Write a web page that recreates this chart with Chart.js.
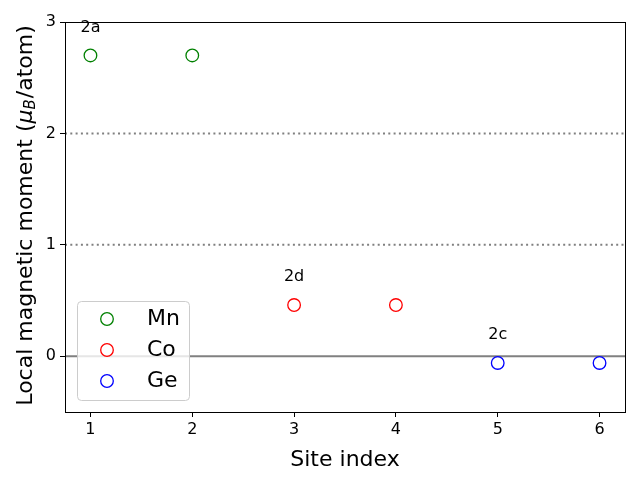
<!DOCTYPE html>
<html>
<head>
<meta charset="utf-8">
<script src="https://cdn.jsdelivr.net/npm/chart.js@4"></script>
<style>
  html, body { margin: 0; padding: 0; background: #fff; }
  #wrap { width: 640px; height: 480px; }
</style>
</head>
<body>
<div id="wrap"><canvas id="myChart" width="640" height="480"></canvas></div>
<script>
// data
var species = ["Mn", "Co", "Ge"];
var colors = ["#008000", "#ff0000", "#0000ff"];
var siteX = [[1, 2], [3, 4], [5, 6]];
var moments = [[2.70, 2.70], [0.46, 0.46], [-0.06, -0.06]];
var xTicks = [1, 2, 3, 4, 5, 6];
var yTicks = [0, 1, 2, 3];
var annLabels = ["2a", "2d", "2c"];
var annX = [1, 3, 5];
var annY = [2.95, 0.71, 0.19];
var dottedLines = [1, 2];
var solidLines = [0];

var FONT = "'DejaVu Sans', sans-serif";

var datasets = species.map(function (name, i) {
	return {
		label: name,
		data: siteX[i].map(function (x, j) { return { x: x, y: moments[i][j] }; }),
		showLine: false,
		pointStyle: "circle",
		pointRadius: 6.3,
		pointHoverRadius: 6.3,
		pointBorderWidth: 1.3,
		borderColor: colors[i],
		backgroundColor: "rgba(0,0,0,0)",
		pointBackgroundColor: "rgba(0,0,0,0)",
	};
});

// reference lines at y = 0, 1, 2
const refLines = {
	id: "refLines",
	beforeDatasetsDraw: function (chart) {
		var ctx = chart.ctx, a = chart.chartArea, y = chart.scales.y;
		ctx.save();
		ctx.strokeStyle = "#808080";
		ctx.lineWidth = 2;
		ctx.setLineDash([2, 3.3]);
		dottedLines.forEach(function (v) {
			var py = y.getPixelForValue(v);
			ctx.beginPath(); ctx.moveTo(a.left, py); ctx.lineTo(a.right, py); ctx.stroke();
		});
		ctx.setLineDash([]);
		solidLines.forEach(function (v) {
			var py = y.getPixelForValue(v);
			ctx.beginPath(); ctx.moveTo(a.left, py); ctx.lineTo(a.right, py); ctx.stroke();
		});
		ctx.restore();
	},
};

// site labels, y title, legend box
const extras = {
	id: "extras",
	afterDraw: function (chart) {
		var ctx = chart.ctx, a = chart.chartArea;
		var xs = chart.scales.x, ys = chart.scales.y;
		ctx.save();
		ctx.fillStyle = "#000";
		ctx.font = "16px " + FONT;
		ctx.textAlign = "center";
		ctx.textBaseline = "middle";
		annLabels.forEach(function (t, i) {
			ctx.fillText(t, xs.getPixelForValue(annX[i]), ys.getPixelForValue(annY[i]));
		});

		// y axis title with mu_B
		ctx.save();
		ctx.translate(26, (a.top + a.bottom) / 2 - 1);
		ctx.rotate(-Math.PI / 2);
		ctx.textBaseline = "middle";
		ctx.textAlign = "left";
		var p1 = "Local magnetic moment (", mu = "\u03bc", sb = "B", p2 = "/atom)";
		ctx.font = "22px " + FONT;
		var w1 = ctx.measureText(p1).width, w4 = ctx.measureText(p2).width;
		ctx.font = "italic 22px " + FONT;
		var w2 = ctx.measureText(mu).width;
		ctx.font = "italic 15px " + FONT;
		var w3 = ctx.measureText(sb).width;
		var x0 = -(w1 + w2 + w3 + w4) / 2;
		ctx.font = "22px " + FONT;
		ctx.fillText(p1, x0, 0);
		ctx.font = "italic 22px " + FONT;
		ctx.fillText(mu, x0 + w1, 0);
		ctx.font = "italic 15px " + FONT;
		ctx.fillText(sb, x0 + w1 + w2, 5);
		ctx.font = "22px " + FONT;
		ctx.fillText(p2, x0 + w1 + w2 + w3 + 1, 0);
		ctx.restore();

		// legend, lower left inside the axes
		var lx = a.left + 12, ly = a.bottom - 111, lw = 112, lh = 99;
		ctx.fillStyle = "rgba(255,255,255,0.8)";
		ctx.strokeStyle = "#cccccc";
		ctx.lineWidth = 1;
		ctx.beginPath();
		ctx.roundRect(lx + 0.5, ly + 0.5, lw, lh, 4);
		ctx.fill();
		ctx.stroke();
		ctx.font = "22px " + FONT;
		ctx.textAlign = "left";
		species.forEach(function (name, i) {
			var cy = ly + 18 + i * 31;
			ctx.beginPath();
			ctx.strokeStyle = colors[i];
			ctx.lineWidth = 1.3;
			ctx.arc(lx + 30, cy, 6.3, 0, Math.PI * 2);
			ctx.stroke();
			ctx.fillStyle = "#000";
			ctx.fillText(name, lx + 70, cy);
		});
		ctx.restore();
	},
};

// box around the whole plot area
const frame = {
	id: "frame",
	afterDatasetsDraw: function (chart) {
		var ctx = chart.ctx, a = chart.chartArea;
		ctx.save();
		ctx.strokeStyle = "#000";
		ctx.lineWidth = 1;
		ctx.strokeRect(a.left + 0.5, a.top + 0.5, a.right - a.left, a.bottom - a.top);
		ctx.restore();
	},
};

const config = {
	type: "scatter",
	data: { datasets: datasets },
	options: {
		responsive: false,
		animation: false,
		events: [],
		layout: { padding: { top: 22, right: 15, left: 0, bottom: 0 } },
		plugins: {
			legend: { display: false },
			tooltip: { enabled: false },
			title: { display: false },
		},
		scales: {
			x: {
				type: "linear",
				min: 0.75,
				max: 6.25,
				afterBuildTicks: function (s) { s.ticks = xTicks.map(function (v) { return { value: v }; }); },
				afterFit: function (s) { s.height = 68; },
				ticks: { color: "#000", font: { family: FONT, size: 16 }, padding: 3, maxRotation: 0 },
				grid: { drawOnChartArea: false, tickLength: 5, tickColor: "#000", tickWidth: 1 },
				border: { color: "#000", width: 1 },
				title: {
					display: true,
					text: "Site index",
					color: "#000",
					font: { family: FONT, size: 22 },
					padding: { top: 6, bottom: 7 },
				},
			},
			y: {
				type: "linear",
				min: -0.5,
				max: 3,
				afterBuildTicks: function (s) { s.ticks = yTicks.map(function (v) { return { value: v }; }); },
				afterFit: function (s) { s.width = 65; },
				ticks: { color: "#000", font: { family: FONT, size: 16 }, padding: 4 },
				grid: { drawOnChartArea: false, tickLength: 5, tickColor: "#000", tickWidth: 1 },
				border: { color: "#000", width: 1 },
			},
		},
	},
	plugins: [refLines, extras, frame],
};

const myChart = new Chart(document.getElementById("myChart"), config);
</script>
</body>
</html>
